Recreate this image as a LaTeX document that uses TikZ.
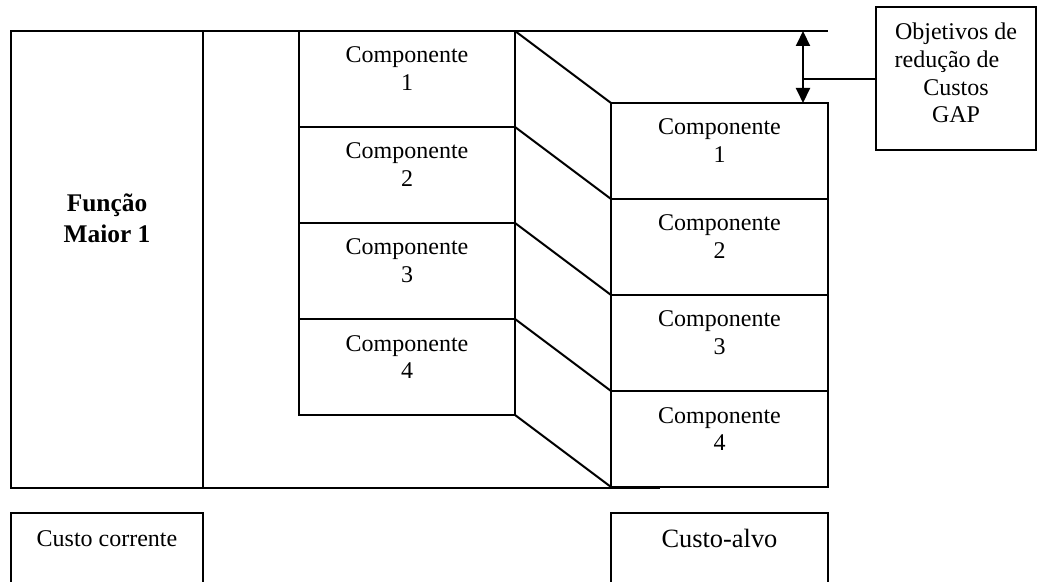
\documentclass[tikz,border=0pt]{standalone}
\usepackage{fontspec}
\setmainfont{Liberation Serif}
\usetikzlibrary{arrows.meta}
\newcommand\mlines[1]{\begin{tabular}[t]{@{}c@{}}#1\end{tabular}}
\begin{document}
\begin{tikzpicture}[x=0.5pt,y=-0.5pt,
  ln/.style={line width=1pt},
  box/.style={draw, line width=1pt, inner sep=0pt, outer sep=0pt, anchor=north west},
  compbox/.style={box, minimum height=48pt},
  lbl/.style={anchor=base, inner sep=0pt, font=\fontsize{12}{13.8}\selectfont},
  dbl/.style={line width=1pt, {Triangle[length=7.5pt,width=7pt]}-{Triangle[length=7.5pt,width=7pt]}}
]
\useasboundingbox (0,0) rectangle (1038,582);
\clip (0,0) rectangle (1038,582);

% main function column
\node[box, minimum width=96pt, minimum height=228.5pt] (func) at (11,31) {};
\coordinate (topend) at (828,31);
\coordinate (botend) at (660,488);
\draw[ln] (func.north east) -- (topend);
\draw[ln] (func.south east) -- (botend);
\node[lbl, font=\bfseries\fontsize{12.7}{15.5}\selectfont] (functxt) at ([yshift=-90.5pt]func.north) {\mlines{Função\\Maior 1}};

% left components
\node[compbox, minimum width=108pt] (L1) at (299,31) {};
\node[compbox, minimum width=108pt] (L2) at (299,127) {};
\node[compbox, minimum width=108pt] (L3) at (299,223) {};
\node[compbox, minimum width=108pt] (L4) at (299,319) {};
% right components
\node[compbox, minimum width=108.5pt] (R1) at (611,103) {};
\node[compbox, minimum width=108.5pt] (R2) at (611,199) {};
\node[compbox, minimum width=108.5pt] (R3) at (611,295) {};
\node[compbox, minimum width=108.5pt] (R4) at (611,391) {};

\foreach \n in {1,2,3,4}{
  \node[lbl] (Lt\n) at ([yshift=-16pt]L\n.north) {\mlines{Componente\\\n}};
  \node[lbl] (Rt\n) at ([yshift=-16pt]R\n.north) {\mlines{Componente\\\n}};
  \draw[ln] (L\n.north east) -- (R\n.north west);
}
\draw[ln] (L4.south east) -- (R4.south west);

% GAP box and arrow
\node[box, minimum width=80pt, minimum height=71.5pt] (gap) at (876,7) {};
\node[lbl] (gaptxt) at ([yshift=-16.5pt]gap.north) {\mlines{Objetivos de\\redução de\hspace*{9pt}\\Custos\\GAP}};
\coordinate (atop) at (803,31);
\coordinate (abot) at (803,103);
\coordinate (amid) at (803,79);
\draw[dbl] (atop) -- (abot);
\draw[ln] (amid) -- (gap.west |- amid);

% bottom boxes
\node[box, minimum width=96pt, minimum height=50pt] (cc) at (11,513) {};
\node[lbl] (cctxt) at ([yshift=-16.5pt]cc.north) {Custo corrente};
\node[box, minimum width=108.5pt, minimum height=50pt] (ca) at (611,513) {};
\node[lbl, font=\fontsize{13.2}{15}\selectfont] (catxt) at ([yshift=-17pt]ca.north) {Custo-alvo};
\end{tikzpicture}
\end{document}
